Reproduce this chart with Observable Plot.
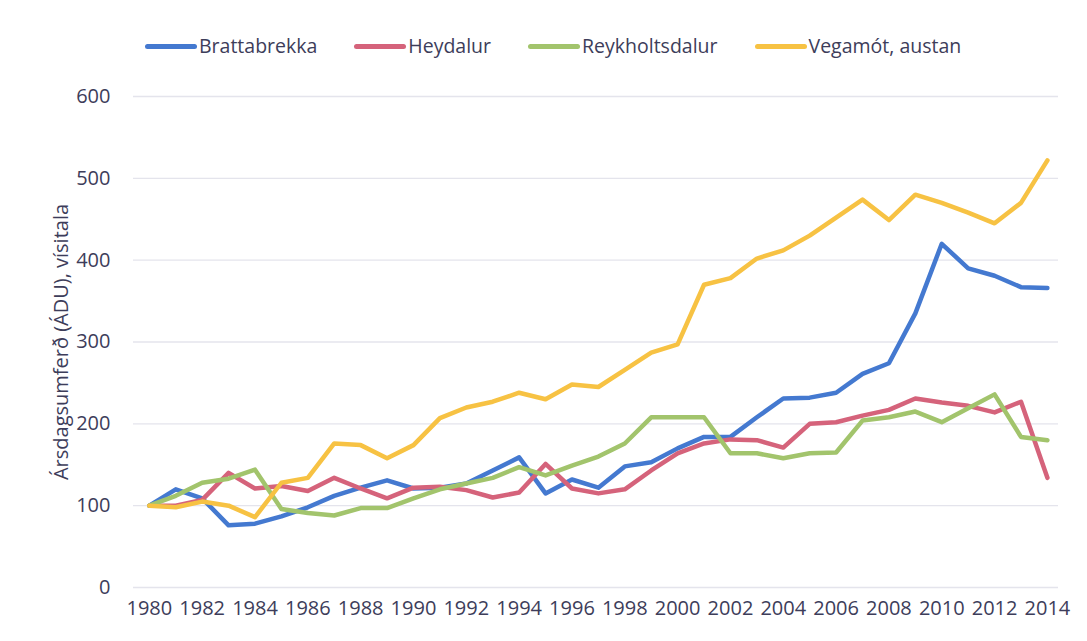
<!DOCTYPE html>
<html>
<head>
<meta charset="utf-8">
<script src="https://cdn.jsdelivr.net/npm/d3@7"></script>
<script src="https://cdn.jsdelivr.net/npm/@observablehq/plot@0.6"></script>
<style>
  html, body { margin: 0; padding: 0; background: #fff; }
  #wrap { position: relative; width: 1087px; height: 641px; font-family: "Open Sans", sans-serif; color: #3d3d5a; }
  #legend { position: absolute; left: 145px; top: 33px; display: flex; gap: 37px; font-size: 19.5px; line-height: 26px; }
  .item { display: flex; align-items: center; }
  .sw { width: 52px; height: 5px; border-radius: 3px; margin-right: 2px; }
  #chart svg text { font-size: 20px; }
</style>
</head>
<body>
<div id="wrap">
  <div id="legend"></div>
  <div id="chart"></div>
</div>
<script>
const years = d3.range(1980, 2015);
const seriesNames = ["Brattabrekka", "Heydalur", "Reykholtsdalur", "Vegamót, austan"];
const colors = ["#4479d0", "#d5637b", "#a2c46c", "#f7c243"];

const brattabrekka = [100,120,109,76,78,87,98,112,122,131,121,122,127,143,159,115,132,122,148,153,170,184,184,208,231,232,238,261,274,335,420,390,381,367,366];
const heydalur     = [100,100,107,140,121,124,118,134,121,109,122,123,119,110,116,151,121,115,120,143,164,176,181,180,171,200,202,210,217,231,226,222,214,227,134];
const reykholtsdalur = [100,112,128,133,144,96,91,88,97,97,109,120,127,134,147,137,149,160,176,208,208,208,164,164,158,164,165,204,208,215,202,219,236,184,180];
const vegamot      = [100,98,105,100,86,128,134,176,174,158,174,207,220,227,238,230,248,245,266,287,297,370,378,402,412,430,452,474,449,480,470,458,445,470,522];

const yTicks = [0,100,200,300,400,500,600];
const xTicks = d3.range(1980, 2015, 2);

const seriesValues = [brattabrekka, heydalur, reykholtsdalur, vegamot];
const data = seriesNames.flatMap((name, i) => years.map((yr, j) => ({series: name, year: yr, value: seriesValues[i][j]})));

const legend = document.getElementById("legend");
seriesNames.forEach((n, i) => {
  const it = document.createElement("div");
  it.className = "item";
  it.innerHTML = `<span class="sw" style="background:${colors[i]}"></span><span>${n}</span>`;
  legend.appendChild(it);
});

const chart = Plot.plot({
  width: 1087,
  height: 641,
  marginLeft: 133,
  marginRight: 29,
  marginTop: 96,
  marginBottom: 54,
  style: { fontFamily: "Open Sans, sans-serif", fontSize: "20px", color: "#3d3d5a", background: "transparent" },
  x: { domain: [1979.4, 2014.42], label: null },
  y: { domain: [0, 600], label: null },
  color: { domain: seriesNames, range: colors },
  marks: [
    Plot.ruleY(yTicks, { stroke: "#e4e4ec", strokeWidth: 1.3 }),
    Plot.axisY({ ticks: yTicks, tickSize: 0, tickPadding: 23, label: "Ársdagsumferð (ÁDU), vísitala", labelAnchor: "center", labelArrow: "none", labelOffset: 80 }),
    Plot.axisX({ ticks: xTicks, tickFormat: d => String(d), tickSize: 0, tickPadding: 13, label: null }),
    Plot.line(data, { x: "year", y: "value", z: "series", stroke: "series", strokeWidth: 4.5, strokeLinejoin: "round", strokeLinecap: "round" })
  ]
});
document.getElementById("chart").appendChild(chart);
</script>
</body>
</html>
